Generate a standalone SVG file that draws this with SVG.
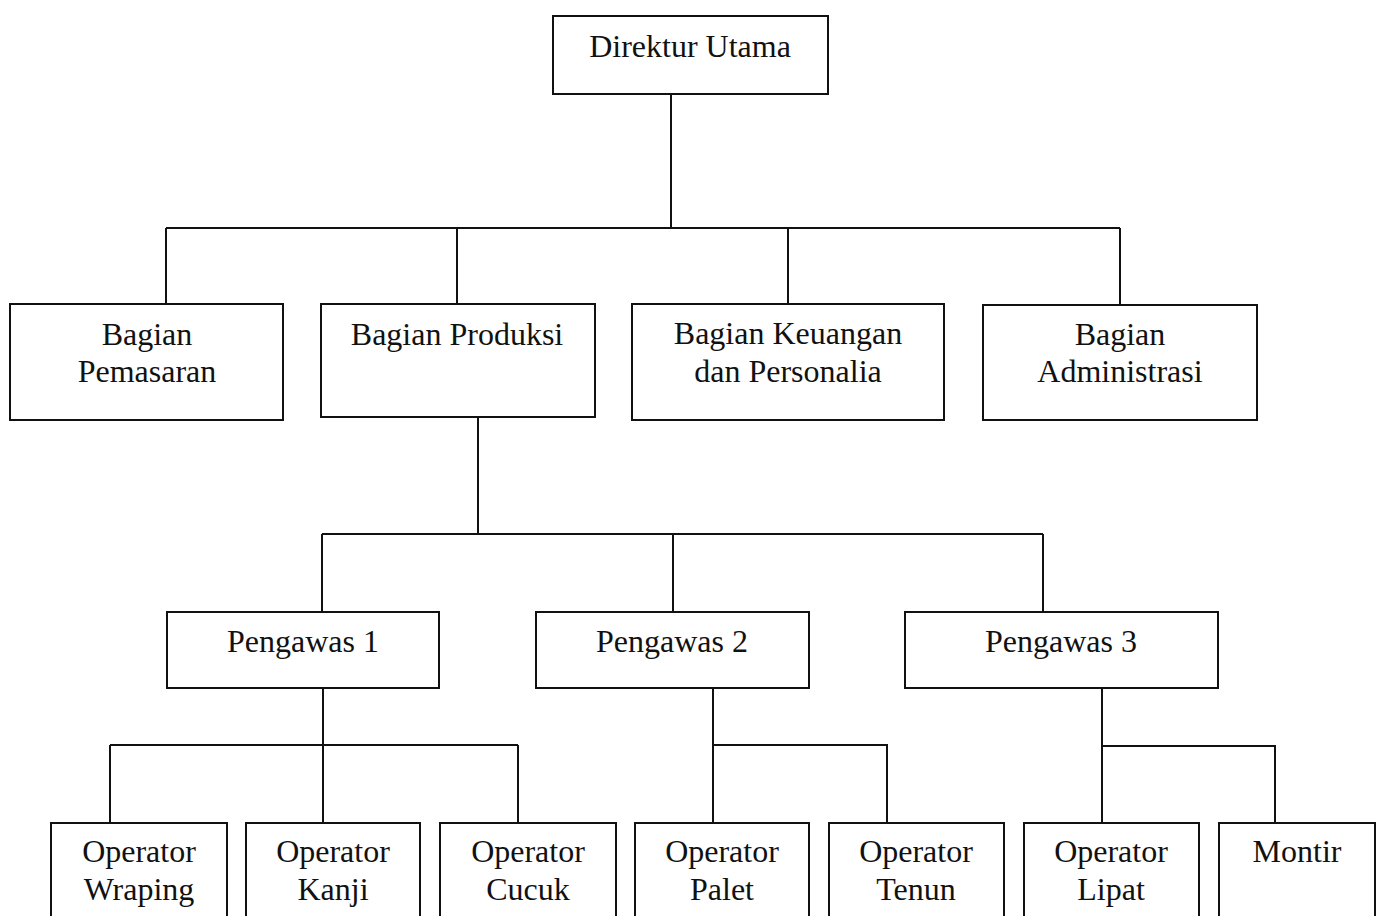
<svg xmlns="http://www.w3.org/2000/svg" width="1385" height="916" viewBox="0 0 1385 916">
<style>
.box{fill:#fff;stroke:#111;stroke-width:2}
.ln{fill:none;stroke:#111;stroke-width:2}
text{font-family:"Liberation Serif","Times New Roman",serif;font-size:32px;fill:#111;text-anchor:middle}
</style>
<rect width="1385" height="916" fill="#fff"/>
<g id="connectors">
<path class="ln" d="M671 94V228M166 228H1120M166 228V304M457 228V304M788 228V304M1120 228V304"/>
<path class="ln" d="M478 417V534M322 534H1043M322 534V612M673 534V612M1043 534V612"/>
<path class="ln" d="M323 688V823M110 745H518M110 745V823M518 745V823"/>
<path class="ln" d="M713 688V823M713 745H887V823"/>
<path class="ln" d="M1102 688V823M1102 746H1275V823"/>
</g>
<g id="direktur"><rect class="box" x="553" y="16" width="275" height="78"/><text x="690" y="57">Direktur Utama</text></g>
<g id="pemasaran"><rect class="box" x="10" y="304" width="273" height="116"/><text x="147" y="345">Bagian</text><text x="147" y="382">Pemasaran</text></g>
<g id="produksi"><rect class="box" x="321" y="304" width="274" height="113"/><text x="457" y="345">Bagian Produksi</text></g>
<g id="keuangan"><rect class="box" x="632" y="304" width="312" height="116"/><text x="788" y="344">Bagian Keuangan</text><text x="788" y="382">dan Personalia</text></g>
<g id="administrasi"><rect class="box" x="983" y="305" width="274" height="115"/><text x="1120" y="345">Bagian</text><text x="1120" y="382">Administrasi</text></g>
<g id="pengawas1"><rect class="box" x="167" y="612" width="272" height="76"/><text x="303" y="652">Pengawas 1</text></g>
<g id="pengawas2"><rect class="box" x="536" y="612" width="273" height="76"/><text x="672" y="652">Pengawas 2</text></g>
<g id="pengawas3"><rect class="box" x="905" y="612" width="313" height="76"/><text x="1061" y="652">Pengawas 3</text></g>
<g id="wraping"><rect class="box" x="51" y="823" width="176" height="110"/><text x="139" y="862">Operator</text><text x="139" y="900">Wraping</text></g>
<g id="kanji"><rect class="box" x="246" y="823" width="174" height="110"/><text x="333" y="862">Operator</text><text x="333" y="900">Kanji</text></g>
<g id="cucuk"><rect class="box" x="440" y="823" width="176" height="110"/><text x="528" y="862">Operator</text><text x="528" y="900">Cucuk</text></g>
<g id="palet"><rect class="box" x="635" y="823" width="174" height="110"/><text x="722" y="862">Operator</text><text x="722" y="900">Palet</text></g>
<g id="tenun"><rect class="box" x="829" y="823" width="175" height="110"/><text x="916" y="862">Operator</text><text x="916" y="900">Tenun</text></g>
<g id="lipat"><rect class="box" x="1024" y="823" width="175" height="110"/><text x="1111" y="862">Operator</text><text x="1111" y="900">Lipat</text></g>
<g id="montir"><rect class="box" x="1219" y="823" width="156" height="110"/><text x="1297" y="862">Montir</text></g>
</svg>
